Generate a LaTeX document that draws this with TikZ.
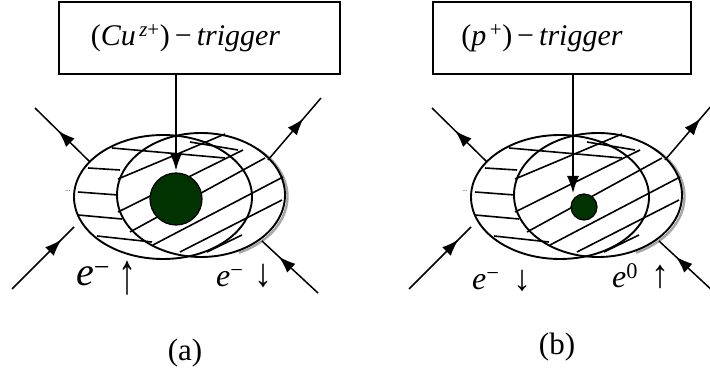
\documentclass[tikz,border=0pt]{standalone}
\usepackage{fontspec}
\setmainfont{Liberation Serif}
\usetikzlibrary{arrows.meta, decorations.markings}
\definecolor{coregreen}{RGB}{0,51,0}

\begin{document}
\begin{tikzpicture}[
    x=1pt, y=-1pt, >={Latex[length=17pt, width=12pt]},
    trigbox/.style={draw, line width=1.2pt, minimum height=72pt, font=\fontsize{30}{34}\selectfont},
    rim/.style={line width=1.9pt},
    rimshade/.style={black!35, line width=2.4pt},
    hatch/.style={line width=1.6pt},
    ray/.style={line width=1.5pt, postaction={decorate},
        decoration={markings, mark=at position #1 with {\arrow{Latex[length=17pt, width=12pt]}}}},
    core/.style={circle, draw, line width=1.2pt, fill=coregreen, inner sep=0pt},
    spin/.style={anchor=base west, inner sep=0pt, font=\fontsize{32}{34}\selectfont},
    spinarrow/.style={inner sep=0pt, font=\fontsize{36}{36}\selectfont},
    caption/.style={font=\fontsize{31}{34}\selectfont}
]
\useasboundingbox (0,0) rectangle (710,379);
\clip (0,0) rectangle (710,379);

% Trigger boxes
\node (trigA) [trigbox, minimum width=281pt] at (199.5,38) {\hspace*{-28pt}(\textit{Cu}\textsuperscript{\,\textit{z}+})\,−\,\textit{trigger}};
\node (trigB) [trigbox, minimum width=258pt] at (562,38) {\hspace*{-40pt}(\textit{p}\textsuperscript{\,+})\,−\,\textit{trigger}};

% Two overlapping orbits, hatching and outer rays (same for both panels)
\foreach \dx in {0,397} {
  \begin{scope}[xshift=\dx pt]
    \draw[rim] (163,197) ellipse [x radius=89, y radius=62];
    \draw[rimshade] (203.5,196.5) ++(-50:84 and 62) arc [start angle=-50, end angle=65, x radius=84, y radius=62];
    \draw[rim] (201,195) ellipse [x radius=84, y radius=62];
    \foreach \xa/\ya/\xb/\yb in {112/148/225/158, 88/168/120/170, 78/192/118/195, 78/215/122/219, 97/236/152/242,
                                 190/142/238/150, 118/179/225/134, 118/212/243/150, 130/232/265/158,
                                 153/245/283/177, 180/252/282/200, 207/252/242/235}
      \draw[hatch] (\xa,\ya) -- (\xb,\yb);
    \node[inner sep=0pt, font=\fontsize{7}{7}\selectfont] (dots\dx) at (68,191) {...};
    \coordinate (ulin\dx) at (90,162);   \coordinate (ulout\dx) at (35,108);
    \coordinate (llout\dx) at (12,289);  \coordinate (llin\dx) at (74,227);
    \coordinate (urin\dx) at (268,160);  \coordinate (urout\dx) at (321,98);
    \coordinate (lrout\dx) at (318,293); \coordinate (lrin\dx) at (262,241);
    \draw[ray=0.58] (ulin\dx) -- (ulout\dx);
    \draw[ray=0.8] (llout\dx) -- (llin\dx);
    \draw[ray=0.67] (urin\dx) -- (urout\dx);
    \draw[ray=0.7] (lrout\dx) -- (lrin\dx);
  \end{scope}
}

% Cores
\node (coreA) [core, minimum size=52pt] at (176,199) {};
\node (coreB) [core, minimum size=26pt] at (584,207) {};
\coordinate (hitB) at (573,193);

% Trigger arrows
\draw[->, line width=1.2pt, shorten >=2pt] (trigA.south -| coreA.north) -- (coreA.north);
\draw[->, line width=1.2pt] (trigB.south -| hitB) -- (hitB);

% Spin labels
\node (spinA1) [spin, font=\fontsize{40}{42}\selectfont] at (76,286) {\textit{e}\textsuperscript{−}};
\node (upA) [spinarrow] at (127,278) {\scalebox{1}[1.6]{↑}};
\node (spinA2) [spin] at (216,287) {\textit{e}\textsuperscript{−}};
\node (downA) [spinarrow] at (263,276) {\scalebox{1}[1.1]{↓}};
\node (spinB1) [spin] at (472,290) {\textit{e}\textsuperscript{−}};
\node (downB) [spinarrow] at (522,281) {\scalebox{1}[1.0]{↓}};
\node (spinB2) [spin] at (612,288) {\textit{e}\textsuperscript{0}};
\node (upB) [spinarrow] at (660,277) {\scalebox{1}[1.1]{↑}};

% Panel captions
\node (capA) [caption] at (185,353) {(a)};
\node (capB) [caption] at (557,347) {(b)};
\end{tikzpicture}
\end{document}
